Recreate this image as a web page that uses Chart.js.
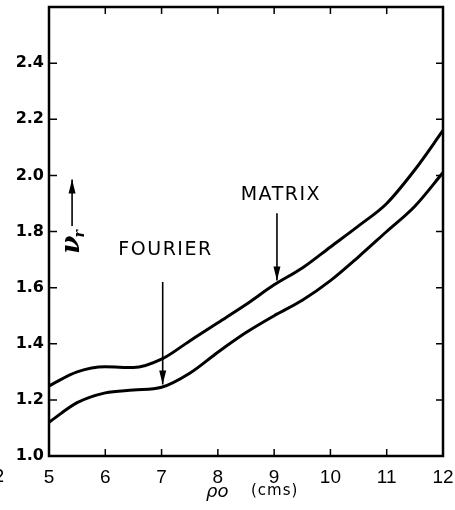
<!DOCTYPE html>
<html>
<head>
<meta charset="utf-8">
<script src="https://cdn.jsdelivr.net/npm/chart.js@4"></script>
<style>
  html, body { margin: 0; padding: 0; background: #fff; }
  #wrap { width: 455px; height: 510px; }
</style>
</head>
<body>
<div id="wrap"><canvas id="chart" width="455" height="510"></canvas></div>
<script>
// data
const rho = [5, 5.5, 6, 6.5, 7, 7.5, 8, 8.5, 9, 9.5, 10, 10.5, 11, 11.5, 12];
const matrix = [1.25, 1.30, 1.318, 1.315, 1.345, 1.41, 1.475, 1.54, 1.61, 1.67, 1.745, 1.82, 1.90, 2.02, 2.16];
const fourier = [1.12, 1.19, 1.225, 1.235, 1.245, 1.295, 1.37, 1.44, 1.50, 1.555, 1.625, 1.71, 1.80, 1.89, 2.01];
const xTicks = [5, 6, 7, 8, 9, 10, 11, 12];
const yTicks = [1.0, 1.2, 1.4, 1.6, 1.8, 2.0, 2.2, 2.4];

const FONT = '"DejaVu Sans", "Liberation Sans", sans-serif';

function drawArrow(ctx, x1, y1, x2, y2) {
    ctx.beginPath();
    ctx.moveTo(x1, y1);
    ctx.lineTo(x2, y2);
    ctx.stroke();
    const dir = y2 > y1 ? 1 : -1;
    ctx.beginPath();
    ctx.moveTo(x2, y2);
    ctx.lineTo(x2 - 3.5, y2 - dir * 14);
    ctx.lineTo(x2 + 3.5, y2 - dir * 14);
    ctx.closePath();
    ctx.fill();
}

// frame, inward ticks and the hand-drawn labels
const decor = {
    id: 'decor',
    afterDraw(chart) {
        const ctx = chart.ctx;
        const { left, right, top, bottom } = chart.chartArea;
        const xs = chart.scales.x, ys = chart.scales.y;
        ctx.save();
        ctx.strokeStyle = '#000';
        ctx.fillStyle = '#000';

        ctx.lineWidth = 2.5;
        ctx.strokeRect(left, top, right - left, bottom - top);

        ctx.lineWidth = 1.5;
        xTicks.slice(1, -1).forEach(v => {
            const px = xs.getPixelForValue(v);
            ctx.beginPath();
            ctx.moveTo(px, bottom); ctx.lineTo(px, bottom - 7);
            ctx.moveTo(px, top); ctx.lineTo(px, top + 7);
            ctx.stroke();
        });
        yTicks.slice(1).forEach(v => {
            const py = ys.getPixelForValue(v);
            ctx.beginPath();
            ctx.moveTo(left, py); ctx.lineTo(left + 8, py);
            ctx.moveTo(right, py); ctx.lineTo(right - 7, py);
            ctx.stroke();
        });

        // curve labels with arrows
        ctx.lineWidth = 1.6;
        ctx.font = '19px ' + FONT;
        ctx.letterSpacing = '1.5px';
        ctx.textAlign = 'center';
        ctx.textBaseline = 'middle';
        ctx.fillText('MATRIX', xs.getPixelForValue(9.12), ys.getPixelForValue(1.93));
        drawArrow(ctx, xs.getPixelForValue(9.05), ys.getPixelForValue(1.865),
                  xs.getPixelForValue(9.05), ys.getPixelForValue(1.625));
        ctx.fillText('FOURIER', xs.getPixelForValue(7.07), ys.getPixelForValue(1.735));
        drawArrow(ctx, xs.getPixelForValue(7.02), ys.getPixelForValue(1.62),
                  xs.getPixelForValue(7.02), ys.getPixelForValue(1.255));
        ctx.letterSpacing = '0px';

        // y label: nu_r with arrow, rotated
        drawArrow(ctx, xs.getPixelForValue(5.41), ys.getPixelForValue(1.82),
                  xs.getPixelForValue(5.41), ys.getPixelForValue(1.985));
        ctx.save();
        ctx.translate(xs.getPixelForValue(5.41), ys.getPixelForValue(1.76));
        ctx.rotate(-Math.PI / 2);
        ctx.font = 'italic bold 26px "DejaVu Serif", serif';
        ctx.fillText('\u03BD', -2, 0);
        ctx.font = 'italic bold 14px "DejaVu Serif", serif';
        ctx.fillText('r', 9, 8);
        ctx.restore();

        // x title
        ctx.textAlign = 'left';
        ctx.font = 'italic 18px ' + FONT;
        ctx.fillText('\u03C1o', 206, 492);
        ctx.font = '15px ' + FONT;
        ctx.letterSpacing = '1px';
        ctx.fillText('(cms)', 251, 491);
        ctx.letterSpacing = '0px';

        // clipped leftover from the neighbouring figure
        ctx.font = '17px ' + FONT;
        ctx.fillText('2', -6, 478);
        ctx.restore();
    }
};

new Chart(document.getElementById('chart'), {
    type: 'line',
    data: {
        labels: rho,
        datasets: [
            { label: 'MATRIX', data: rho.map((x, i) => ({ x: x, y: matrix[i] })) },
            { label: 'FOURIER', data: rho.map((x, i) => ({ x: x, y: fourier[i] })) }
        ]
    },
    options: {
        responsive: false,
        animation: false,
        layout: { padding: { left: 0, right: 12, top: 7, bottom: 0 } },
        elements: {
            line: { borderColor: '#000', borderWidth: 3, cubicInterpolationMode: 'monotone', fill: false },
            point: { radius: 0 }
        },
        plugins: {
            legend: { display: false },
            tooltip: { enabled: false }
        },
        scales: {
            x: {
                type: 'linear',
                min: 5,
                max: 12,
                afterBuildTicks: s => { s.ticks = xTicks.map(v => ({ value: v })); },
                afterFit: s => { s.height = 54; s.paddingLeft = 0; s.paddingRight = 0; },
                grid: { display: false, drawTicks: false },
                border: { display: false },
                ticks: {
                    color: '#000',
                    padding: 10,
                    font: { family: '"Liberation Sans", sans-serif', size: 19 },
                    callback: v => String(v)
                }
            },
            y: {
                min: 1.0,
                max: 2.6,
                afterBuildTicks: s => { s.ticks = yTicks.map(v => ({ value: v })); },
                afterFit: s => { s.width = 49; s.paddingTop = 0; s.paddingBottom = 0; },
                grid: { display: false, drawTicks: false },
                border: { display: false },
                ticks: {
                    color: '#000',
                    padding: 5,
                    font: { family: FONT, size: 16, weight: 'bold' },
                    callback: v => v.toFixed(1)
                }
            }
        }
    },
    plugins: [decor]
});
</script>
</body>
</html>
